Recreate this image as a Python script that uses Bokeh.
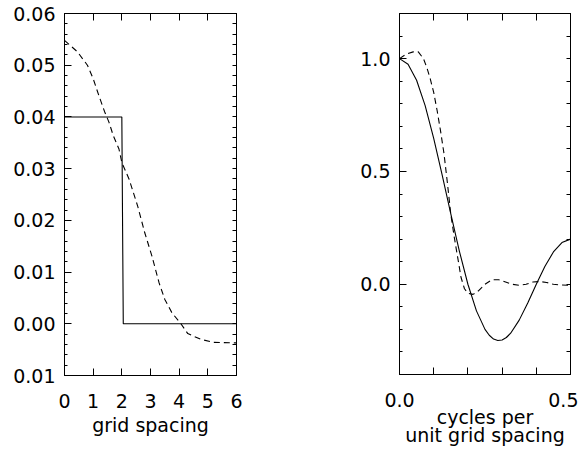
from bokeh.plotting import figure
from bokeh.models import LinearAxis, FixedTicker, PrintfTickFormatter, Range1d
from bokeh.layouts import row
from bokeh.embed import file_html
from bokeh.resources import INLINE

# ---------------- data ----------------
# Left panel: weights vs grid spacing
box_x = [0, 2, 2.05, 6]
box_w = [0.04, 0.04, 0.0, 0.0]

smooth_x = [0, 0.45, 0.8, 1.0, 1.2, 1.4, 1.55, 1.7, 1.9, 2.0, 2.25, 2.55,
            2.8, 3.05, 3.3, 3.5, 3.75, 4.05, 4.3, 4.75, 5.2, 6.0]
smooth_w = [0.0548, 0.0526, 0.0500, 0.0474, 0.0441, 0.0410, 0.0390, 0.0364,
            0.0338, 0.0312, 0.0280, 0.0228, 0.0176, 0.0131, 0.0079, 0.0047,
            0.0021, 0.0001, -0.0019, -0.0030, -0.0036, -0.0037]

# Right panel: response vs cycles per unit grid spacing
box_f = [0, 0.025, 0.05, 0.075, 0.1, 0.125, 0.15, 0.175, 0.2, 0.225, 0.25,
         0.2625, 0.275, 0.2875, 0.3, 0.3125, 0.325, 0.35, 0.375, 0.4, 0.425,
         0.45, 0.475, 0.5]
box_r = [1.0, 0.975, 0.904, 0.792, 0.647, 0.483, 0.312, 0.147, 0.0, -0.118,
         -0.2, -0.226, -0.243, -0.249, -0.247, -0.236, -0.217, -0.159, -0.083,
         0.0, 0.079, 0.143, 0.185, 0.2]

smooth_f = [0, 0.02, 0.04, 0.055, 0.07, 0.08, 0.09, 0.1, 0.11, 0.12, 0.13,
            0.14, 0.15, 0.16, 0.17, 0.18, 0.19, 0.2, 0.215, 0.23, 0.25, 0.27,
            0.29, 0.31, 0.33, 0.35, 0.37, 0.39, 0.41, 0.43, 0.45, 0.47, 0.5]
smooth_r = [1.0, 1.02, 1.03, 1.03, 1.0, 0.96, 0.91, 0.85, 0.77, 0.68, 0.58,
            0.45, 0.31, 0.21, 0.12, 0.03, -0.02, -0.04, -0.045, -0.03, 0.0,
            0.02, 0.02, 0.01, 0.0, -0.005, 0.0, 0.01, 0.012, 0.008, 0.0,
            -0.003, -0.005]

# ticks
left_x_ticks = [0, 1, 2, 3, 4, 5, 6]
left_y_ticks = [-0.01, 0.0, 0.01, 0.02, 0.03, 0.04, 0.05, 0.06]
left_y_minor = [-0.008, -0.006, -0.004, -0.002, 0.002, 0.004, 0.006, 0.008,
                0.012, 0.014, 0.016, 0.018, 0.022, 0.024, 0.026, 0.028,
                0.032, 0.034, 0.036, 0.038, 0.042, 0.044, 0.046, 0.048,
                0.052, 0.054, 0.056, 0.058]
right_x_ticks = [0.0, 0.5]
right_x_minor = [0.1, 0.2, 0.3, 0.4]
right_y_ticks = [0.0, 0.5, 1.0]
right_y_minor = [-0.4, -0.3, -0.2, -0.1, 0.1, 0.2, 0.3, 0.4, 0.6, 0.7, 0.8,
                 0.9, 1.1, 1.2]

FONT = "DejaVu Sans"
FS = "19px"


def style_axis(ax, ticks, minor, fmt, major_in=7, minor_in=3):
    ax.ticker = FixedTicker(ticks=ticks, minor_ticks=minor)
    ax.formatter = PrintfTickFormatter(format=fmt)
    ax.major_tick_in = major_in
    ax.major_tick_out = 0
    ax.minor_tick_in = minor_in
    ax.minor_tick_out = 0
    ax.axis_line_color = "black"
    ax.major_tick_line_color = "black"
    ax.minor_tick_line_color = "black"
    ax.major_label_text_font = FONT
    ax.major_label_text_font_size = FS
    ax.major_label_text_color = "black"
    ax.major_label_standoff = 9
    ax.axis_label_text_font = FONT
    ax.axis_label_text_font_size = FS
    ax.axis_label_text_font_style = "normal"
    ax.axis_label_text_color = "black"


def mirror_axis(tick_positions, length):
    # mirror axis: only minor ticks, hence no labels at all
    ax = LinearAxis(ticker=FixedTicker(ticks=[], minor_ticks=tick_positions))
    ax.major_tick_in = 0
    ax.major_tick_out = 0
    ax.minor_tick_in = length
    ax.minor_tick_out = 0
    ax.major_label_standoff = 0
    ax.axis_line_color = "black"
    ax.minor_tick_line_color = "black"
    return ax


def make_fig(xr, yr, fw, fh, bl, br):
    p = figure(frame_width=fw, frame_height=fh, x_range=xr, y_range=yr,
               output_backend="svg", toolbar_location=None,
               min_border_left=bl, min_border_right=br,
               min_border_top=13, min_border_bottom=10,
               background_fill_color="white", border_fill_color="white")
    p.grid.visible = False
    p.outline_line_color = "black"
    p.outline_line_width = 1
    return p


# ---------------- left panel ----------------
p1 = make_fig(Range1d(0, 6), Range1d(-0.01, 0.06), 172, 362, 64, 72)
p1.line(box_x, box_w, line_color="black", line_width=1.1)
p1.line(smooth_x, smooth_w, line_color="black", line_width=1.1, line_dash="6 4")

style_axis(p1.xaxis[0], left_x_ticks, [], "%d", major_in=7)
p1.xaxis[0].axis_label = "grid spacing"
p1.xaxis[0].major_label_standoff = 18
p1.xaxis[0].axis_label_standoff = 3
style_axis(p1.yaxis[0], left_y_ticks, left_y_minor, "%.2f", major_in=7, minor_in=3)
p1.yaxis[0].major_label_overrides = {-0.01: "0.01"}

p1.add_layout(mirror_axis(left_x_ticks, 7), "above")
p1.add_layout(mirror_axis(sorted(left_y_ticks + left_y_minor), 4), "right")

# ---------------- right panel ----------------
p2 = make_fig(Range1d(0, 0.5), Range1d(-0.4, 1.2), 171, 361, 91, 8)
p2.line(box_f, box_r, line_color="black", line_width=1.1)
p2.line(smooth_f, smooth_r, line_color="black", line_width=1.1, line_dash="6 4")

style_axis(p2.xaxis[0], right_x_ticks, right_x_minor, "%.1f", major_in=7, minor_in=7)
p2.xaxis[0].axis_label = "cycles per\nunit grid spacing"
p2.xaxis[0].axis_label_text_line_height = 0.85
p2.xaxis[0].major_label_standoff = 18
p2.xaxis[0].axis_label_standoff = -4
style_axis(p2.yaxis[0], right_y_ticks, right_y_minor, "%.1f", major_in=7, minor_in=3)

p2.add_layout(mirror_axis(right_x_ticks + right_x_minor, 7), "above")
p2.add_layout(mirror_axis(sorted(right_y_ticks + right_y_minor), 4), "right")

layout = row(p1, p2)
open("out.html", "w").write(file_html(layout, INLINE))
